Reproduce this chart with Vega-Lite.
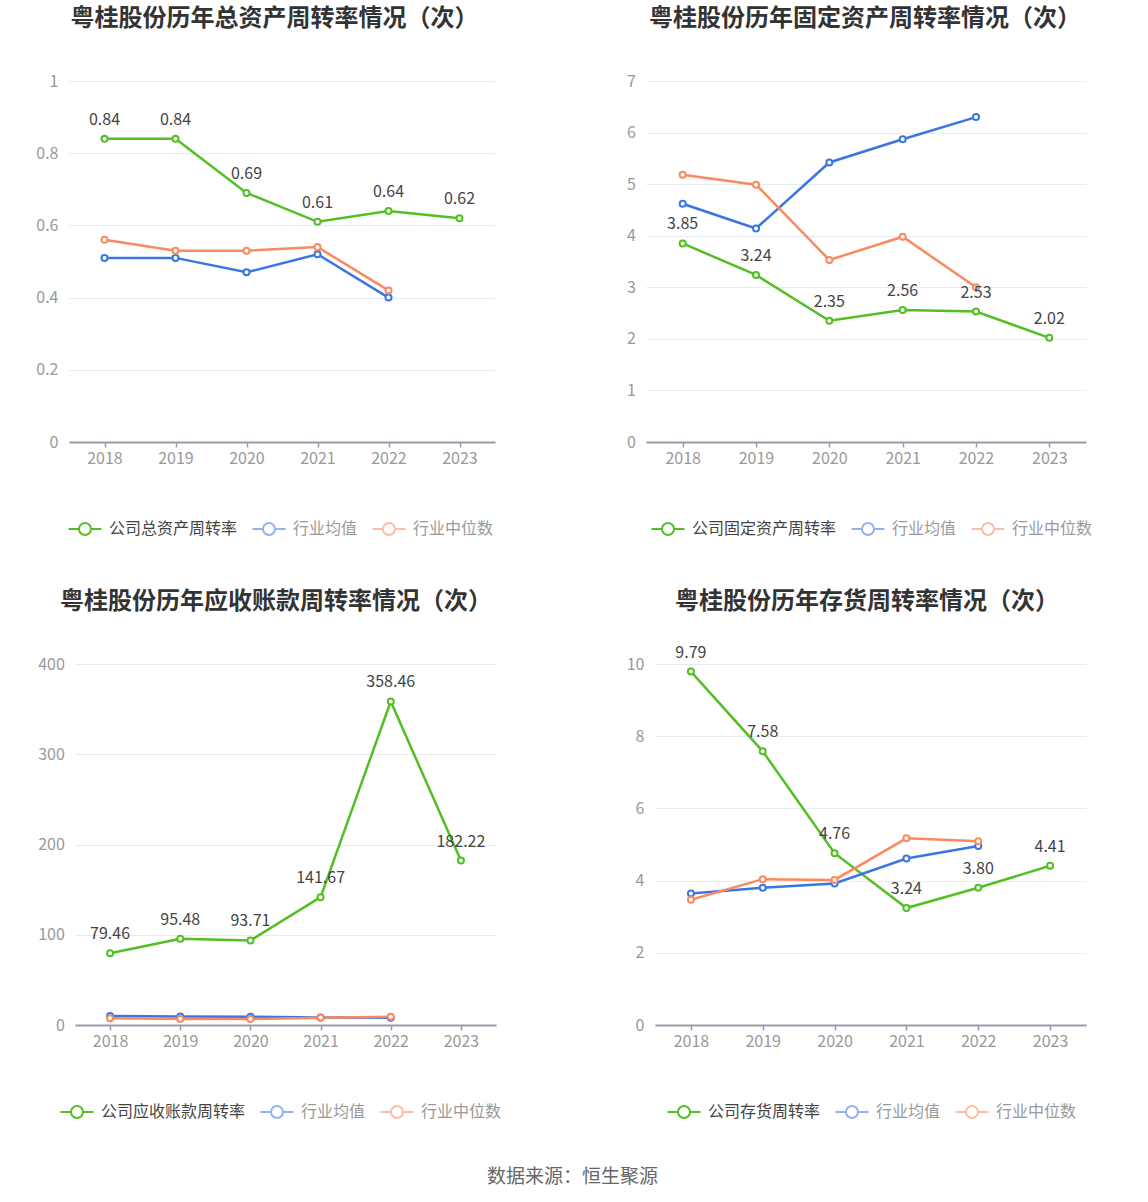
{
  "$schema": "https://vega.github.io/schema/vega-lite/v6.json",
  "autosize": {"type": "pad"},
  "padding": {"left": 35, "top": 7, "right": 10, "bottom": 10},
  "background": "#ffffff",
  "title": {"text": "数据来源：恒生聚源", "orient": "bottom", "anchor": "middle", "frame": "bounds", "fontSize": 19, "fontWeight": "normal", "color": "#666666", "baseline": "middle", "offset": 55, "dx": 8},
  "columns": 2,
  "spacing": {"row": 222, "column": 151},
  "bounds": "flush",
  "resolve": {"scale": {"x": "independent", "y": "independent", "color": "independent", "stroke": "independent"}, "legend": {"color": "independent", "stroke": "independent"}},
  "concat": [
    {
      "width": 426, "height": 361,
      "title": {"text": "粤桂股份历年总资产周转率情况（次）", "dx": -7.5, "frame": "group", "offset": 42},
      "data": {"values": [
        {"year": "2018", "series": "公司总资产周转率", "value": 0.84},
        {"year": "2019", "series": "公司总资产周转率", "value": 0.84},
        {"year": "2020", "series": "公司总资产周转率", "value": 0.69},
        {"year": "2021", "series": "公司总资产周转率", "value": 0.61},
        {"year": "2022", "series": "公司总资产周转率", "value": 0.64},
        {"year": "2023", "series": "公司总资产周转率", "value": 0.62},
        {"year": "2018", "series": "行业均值", "value": 0.51},
        {"year": "2019", "series": "行业均值", "value": 0.51},
        {"year": "2020", "series": "行业均值", "value": 0.47},
        {"year": "2021", "series": "行业均值", "value": 0.52},
        {"year": "2022", "series": "行业均值", "value": 0.40},
        {"year": "2018", "series": "行业中位数", "value": 0.56},
        {"year": "2019", "series": "行业中位数", "value": 0.53},
        {"year": "2020", "series": "行业中位数", "value": 0.53},
        {"year": "2021", "series": "行业中位数", "value": 0.54},
        {"year": "2022", "series": "行业中位数", "value": 0.42}
      ]},
      "encoding": {
        "x": {"field": "year", "type": "ordinal", "scale": {"type": "point", "padding": 0.5}, "axis": {"title": null}},
        "y": {"field": "value", "type": "quantitative", "scale": {"domain": [0, 1], "nice": false, "zero": true}, "axis": {"title": null, "values": [0, 0.2, 0.4, 0.6, 0.8, 1], "format": "~g", "labelPadding": 11}}
      },
      "layer": [
        {"mark": {"type": "line", "strokeWidth": 2.5},
         "encoding": {"color": {"field": "series", "type": "nominal", "scale": {"domain": ["公司总资产周转率", "行业均值", "行业中位数"], "range": ["#52BF25", "#3A76E3", "#FA8A5E"]},
           "legend": {"orient": "none", "legendX": 8, "legendY": 440, "direction": "horizontal", "title": null,
             "encode": {
               "labels": {"update": {"fill": {"signal": "indexof(['行业均值','行业中位数'], datum.value) >= 0 ? '#999999' : '#444444'"}}},
               "symbols": {"update": {"fill": {"value": "#ffffff"}, "opacity": {"signal": "indexof(['行业均值','行业中位数'], datum.value) >= 0 ? 0.55 : 1"}}}
             }}}}},
        {"mark": {"type": "point", "shape": "circle", "filled": true, "fill": "#ffffff", "size": 36, "strokeWidth": 2, "opacity": 1},
         "encoding": {"stroke": {"field": "series", "type": "nominal", "scale": {"domain": ["公司总资产周转率", "行业均值", "行业中位数"], "range": ["#52BF25", "#3A76E3", "#FA8A5E"]}, "legend": null}}},
        {"transform": [{"filter": "indexof(['行业均值','行业中位数'], datum.series) < 0"}],
         "mark": {"type": "text", "baseline": "alphabetic", "dy": -14, "fontSize": 16, "color": "#444444"},
         "encoding": {"text": {"field": "value", "type": "quantitative", "format": ".2f"}}}
      ]
    },
    {
      "width": 440, "height": 361,
      "title": {"text": "粤桂股份历年固定资产周转率情况（次）", "dx": -1, "frame": "group", "offset": 42},
      "data": {"values": [
        {"year": "2018", "series": "公司固定资产周转率", "value": 3.85},
        {"year": "2019", "series": "公司固定资产周转率", "value": 3.24},
        {"year": "2020", "series": "公司固定资产周转率", "value": 2.35},
        {"year": "2021", "series": "公司固定资产周转率", "value": 2.56},
        {"year": "2022", "series": "公司固定资产周转率", "value": 2.53},
        {"year": "2023", "series": "公司固定资产周转率", "value": 2.02},
        {"year": "2018", "series": "行业均值", "value": 4.62},
        {"year": "2019", "series": "行业均值", "value": 4.14},
        {"year": "2020", "series": "行业均值", "value": 5.42},
        {"year": "2021", "series": "行业均值", "value": 5.87},
        {"year": "2022", "series": "行业均值", "value": 6.30},
        {"year": "2018", "series": "行业中位数", "value": 5.18},
        {"year": "2019", "series": "行业中位数", "value": 4.99},
        {"year": "2020", "series": "行业中位数", "value": 3.53},
        {"year": "2021", "series": "行业中位数", "value": 3.98},
        {"year": "2022", "series": "行业中位数", "value": 3.00}
      ]},
      "encoding": {
        "x": {"field": "year", "type": "ordinal", "scale": {"type": "point", "padding": 0.5}, "axis": {"title": null}},
        "y": {"field": "value", "type": "quantitative", "scale": {"domain": [0, 7], "nice": false}, "axis": {"title": null, "values": [0, 1, 2, 3, 4, 5, 6, 7], "labelPadding": 10.5}}
      },
      "layer": [
        {"mark": {"type": "line", "strokeWidth": 2.5},
         "encoding": {"color": {"field": "series", "type": "nominal", "scale": {"domain": ["公司固定资产周转率", "行业均值", "行业中位数"], "range": ["#52BF25", "#3A76E3", "#FA8A5E"]},
           "legend": {"orient": "none", "legendX": 14, "legendY": 440, "direction": "horizontal", "title": null,
             "encode": {
               "labels": {"update": {"fill": {"signal": "indexof(['行业均值','行业中位数'], datum.value) >= 0 ? '#999999' : '#444444'"}}},
               "symbols": {"update": {"fill": {"value": "#ffffff"}, "opacity": {"signal": "indexof(['行业均值','行业中位数'], datum.value) >= 0 ? 0.55 : 1"}}}
             }}}}},
        {"mark": {"type": "point", "shape": "circle", "filled": true, "fill": "#ffffff", "size": 36, "strokeWidth": 2, "opacity": 1},
         "encoding": {"stroke": {"field": "series", "type": "nominal", "scale": {"domain": ["公司固定资产周转率", "行业均值", "行业中位数"], "range": ["#52BF25", "#3A76E3", "#FA8A5E"]}, "legend": null}}},
        {"transform": [{"filter": "indexof(['行业均值','行业中位数'], datum.series) < 0"}],
         "mark": {"type": "text", "baseline": "alphabetic", "dy": -14, "fontSize": 16, "color": "#444444"},
         "encoding": {"text": {"field": "value", "type": "quantitative", "format": ".2f"}}}
      ]
    },
    {
      "width": 426, "height": 361,
      "title": {"text": "粤桂股份历年应收账款周转率情况（次）", "dx": -6, "frame": "group", "offset": 42},
      "data": {"values": [
        {"year": "2018", "series": "公司应收账款周转率", "value": 79.46},
        {"year": "2019", "series": "公司应收账款周转率", "value": 95.48},
        {"year": "2020", "series": "公司应收账款周转率", "value": 93.71},
        {"year": "2021", "series": "公司应收账款周转率", "value": 141.67},
        {"year": "2022", "series": "公司应收账款周转率", "value": 358.46},
        {"year": "2023", "series": "公司应收账款周转率", "value": 182.22},
        {"year": "2018", "series": "行业均值", "value": 9.9},
        {"year": "2019", "series": "行业均值", "value": 9.5},
        {"year": "2020", "series": "行业均值", "value": 9.1},
        {"year": "2021", "series": "行业均值", "value": 8.3},
        {"year": "2022", "series": "行业均值", "value": 7.9},
        {"year": "2018", "series": "行业中位数", "value": 7.5},
        {"year": "2019", "series": "行业中位数", "value": 6.7},
        {"year": "2020", "series": "行业中位数", "value": 6.7},
        {"year": "2021", "series": "行业中位数", "value": 7.9},
        {"year": "2022", "series": "行业中位数", "value": 9.1}
      ]},
      "encoding": {
        "x": {"field": "year", "type": "ordinal", "scale": {"type": "point", "padding": 0.5, "range": [6, 427]}, "axis": {"title": null}},
        "y": {"field": "value", "type": "quantitative", "scale": {"domain": [0, 400], "nice": false}, "axis": {"title": null, "values": [0, 100, 200, 300, 400], "labelPadding": 4.7}}
      },
      "layer": [
        {"mark": {"type": "line", "strokeWidth": 2.5},
         "encoding": {"color": {"field": "series", "type": "nominal", "scale": {"domain": ["公司应收账款周转率", "行业均值", "行业中位数"], "range": ["#52BF25", "#3A76E3", "#FA8A5E"]},
           "legend": {"orient": "none", "legendX": 0, "legendY": 440, "direction": "horizontal", "title": null,
             "encode": {
               "labels": {"update": {"fill": {"signal": "indexof(['行业均值','行业中位数'], datum.value) >= 0 ? '#999999' : '#444444'"}}},
               "symbols": {"update": {"fill": {"value": "#ffffff"}, "opacity": {"signal": "indexof(['行业均值','行业中位数'], datum.value) >= 0 ? 0.55 : 1"}}}
             }}}}},
        {"mark": {"type": "point", "shape": "circle", "filled": true, "fill": "#ffffff", "size": 36, "strokeWidth": 2, "opacity": 1},
         "encoding": {"stroke": {"field": "series", "type": "nominal", "scale": {"domain": ["公司应收账款周转率", "行业均值", "行业中位数"], "range": ["#52BF25", "#3A76E3", "#FA8A5E"]}, "legend": null}}},
        {"transform": [{"filter": "indexof(['行业均值','行业中位数'], datum.series) < 0"}],
         "mark": {"type": "text", "baseline": "alphabetic", "dy": -14, "fontSize": 16, "color": "#444444"},
         "encoding": {"text": {"field": "value", "type": "quantitative", "format": ".2f"}}}
      ]
    },
    {
      "width": 440, "height": 361,
      "title": {"text": "粤桂股份历年存货周转率情况（次）", "dx": 1, "frame": "group", "offset": 31},
      "data": {"values": [
        {"year": "2018", "series": "公司存货周转率", "value": 9.79},
        {"year": "2019", "series": "公司存货周转率", "value": 7.58},
        {"year": "2020", "series": "公司存货周转率", "value": 4.76},
        {"year": "2021", "series": "公司存货周转率", "value": 3.24},
        {"year": "2022", "series": "公司存货周转率", "value": 3.80},
        {"year": "2023", "series": "公司存货周转率", "value": 4.41},
        {"year": "2018", "series": "行业均值", "value": 3.64},
        {"year": "2019", "series": "行业均值", "value": 3.80},
        {"year": "2020", "series": "行业均值", "value": 3.92},
        {"year": "2021", "series": "行业均值", "value": 4.61},
        {"year": "2022", "series": "行业均值", "value": 4.96},
        {"year": "2018", "series": "行业中位数", "value": 3.47},
        {"year": "2019", "series": "行业中位数", "value": 4.04},
        {"year": "2020", "series": "行业中位数", "value": 4.02},
        {"year": "2021", "series": "行业中位数", "value": 5.17},
        {"year": "2022", "series": "行业中位数", "value": 5.09}
      ]},
      "encoding": {
        "x": {"field": "year", "type": "ordinal", "scale": {"type": "point", "padding": 0.5, "range": [9, 440]}, "axis": {"title": null}},
        "y": {"field": "value", "type": "quantitative", "scale": {"domain": [0, 10], "nice": false}, "axis": {"title": null, "values": [0, 2, 4, 6, 8, 10], "labelPadding": 2}}
      },
      "layer": [
        {"mark": {"type": "line", "strokeWidth": 2.5},
         "encoding": {"color": {"field": "series", "type": "nominal", "scale": {"domain": ["公司存货周转率", "行业均值", "行业中位数"], "range": ["#52BF25", "#3A76E3", "#FA8A5E"]},
           "legend": {"orient": "none", "legendX": 30, "legendY": 440, "direction": "horizontal", "title": null,
             "encode": {
               "labels": {"update": {"fill": {"signal": "indexof(['行业均值','行业中位数'], datum.value) >= 0 ? '#999999' : '#444444'"}}},
               "symbols": {"update": {"fill": {"value": "#ffffff"}, "opacity": {"signal": "indexof(['行业均值','行业中位数'], datum.value) >= 0 ? 0.55 : 1"}}}
             }}}}},
        {"mark": {"type": "point", "shape": "circle", "filled": true, "fill": "#ffffff", "size": 36, "strokeWidth": 2, "opacity": 1},
         "encoding": {"stroke": {"field": "series", "type": "nominal", "scale": {"domain": ["公司存货周转率", "行业均值", "行业中位数"], "range": ["#52BF25", "#3A76E3", "#FA8A5E"]}, "legend": null}}},
        {"transform": [{"filter": "indexof(['行业均值','行业中位数'], datum.series) < 0"}],
         "mark": {"type": "text", "baseline": "alphabetic", "dy": -14, "fontSize": 16, "color": "#444444"},
         "encoding": {"text": {"field": "value", "type": "quantitative", "format": ".2f"}}}
      ]
    }
  ],
  "config": {
    "font": "Noto Sans CJK SC",
    "view": {"stroke": null},
    "title": {"fontSize": 24, "fontWeight": "bold", "color": "#333333", "baseline": "middle", "anchor": "middle"},
    "axis": {"labelFont": "Noto Sans CJK SC", "labelFontSize": 16, "labelColor": "#999999", "titleFont": "Noto Sans CJK SC"},
    "axisX": {"labelAngle": 0, "domainColor": "#9A9AAA", "domainWidth": 2, "tickColor": "#9A9AAA", "tickWidth": 1.5, "tickSize": 5, "labelPadding": 3, "grid": false},
    "axisY": {"domain": false, "ticks": false, "grid": true, "gridColor": "#E7EBF3", "gridWidth": 1},
    "legend": {
      "labelFont": "Noto Sans CJK SC", "labelFontSize": 16, "labelColor": "#999999", "labelOffset": 16, "columnPadding": 10,
      "symbolType": "M-2.75,0L-1,0M1,0L2.75,0M-1,0A1,1,0,1,0,1,0A1,1,0,1,0,-1,0",
      "symbolSize": 144, "symbolStrokeWidth": 2, "symbolFillColor": "#ffffff",
      "labelLimit": 400
    }
  }
}
